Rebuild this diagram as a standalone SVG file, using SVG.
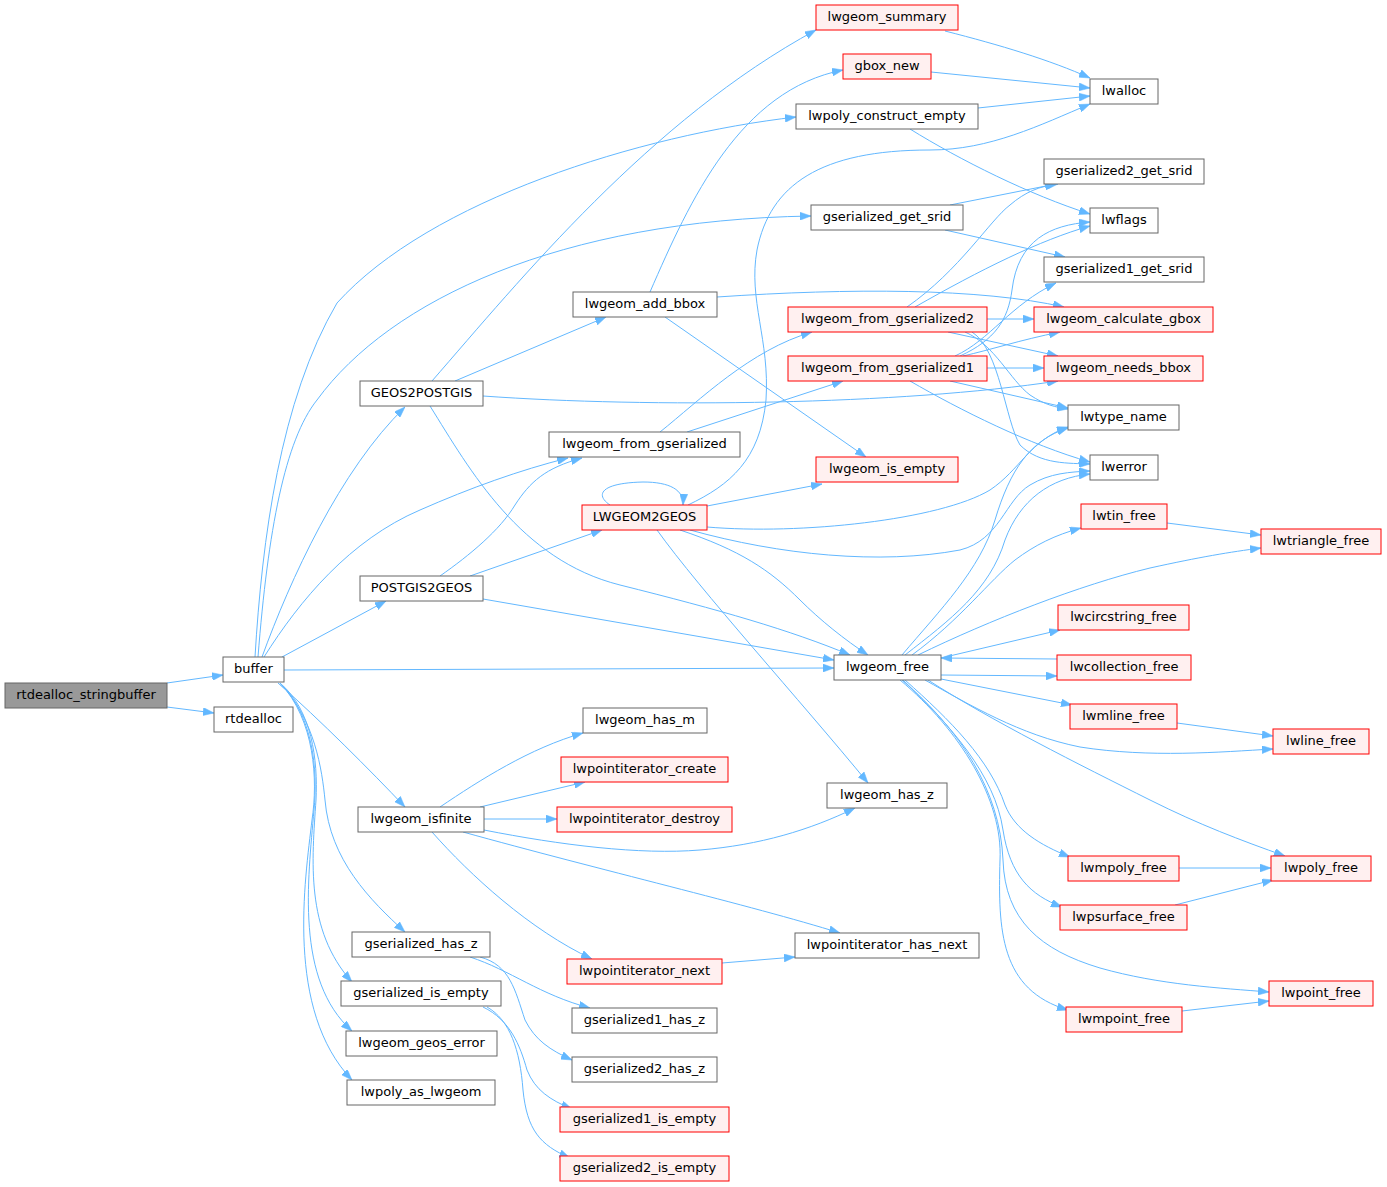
<svg xmlns="http://www.w3.org/2000/svg" width="1387" height="1187" viewBox="0 0 1387 1187">
<style>
.n rect{fill:#ffffff;stroke:#666666;stroke-width:1}
.r rect{fill:#fff0f0;stroke:#ff0000;stroke-width:1}
.root rect{fill:#999999;stroke:#666666;stroke-width:1}
text{font-family:"DejaVu Sans","Liberation Sans",sans-serif;font-size:13px;text-anchor:middle;fill:#000000}
.e path{fill:none;stroke:#63b8ff;stroke-width:1;marker-end:url(#a)}
</style>
<defs>
<marker id="a" viewBox="0 0 11 8" refX="11" refY="4" markerWidth="11" markerHeight="8" markerUnits="userSpaceOnUse" orient="auto" preserveAspectRatio="none">
<path d="M0,0 L11,4 L0,8 z" fill="#63b8ff" stroke="#63b8ff" stroke-width="0.5"/>
</marker>
</defs>
<rect width="1387" height="1187" fill="#ffffff"/>
<g class="e" id="edges">
<path d="M167,683 L223,675"/>
<path d="M167,707 L214,713"/>
<path d="M262,657 C290,580 340,470 405,407"/>
<path d="M264,657 C300,600 350,540 420,510 C470,488 520,470 568,458"/>
<path d="M255,657 C262,540 280,400 337,303 C430,200 640,135 796,117"/>
<path d="M258,657 C268,530 285,440 317,400 C390,300 560,220 811,216"/>
<path d="M282,657 L386,601"/>
<path d="M284,670 L834,668"/>
<path d="M278,683 C320,720 370,770 405,807"/>
<path d="M280,683 C315,720 322,770 325,800 C330,860 370,900 405,932"/>
<path d="M280,683 C312,710 318,760 316,800 C312,860 305,930 352,982"/>
<path d="M280,683 C313,715 318,770 314,810 C308,880 295,980 352,1031"/>
<path d="M280,683 C315,720 318,780 312,820 C305,880 285,1010 352,1080"/>
<path d="M432,381 C520,280 650,120 816,30"/>
<path d="M455,381 L606,317"/>
<path d="M483,396 C650,408 900,405 1058,381"/>
<path d="M430,406 C470,470 520,560 620,585 C720,610 790,630 850,655"/>
<path d="M650,292 C690,200 740,90 843,70"/>
<path d="M717,297 C850,288 980,288 1064,307"/>
<path d="M665,317 L866,457"/>
<path d="M660,432 C700,400 750,350 812,332"/>
<path d="M687,432 L843,381"/>
<path d="M907,307 C960,270 990,220 1010,205 C1025,192 1040,186 1058,184"/>
<path d="M915,307 C980,270 1040,240 1090,226"/>
<path d="M987,319 L1034,319"/>
<path d="M948,332 L1058,356"/>
<path d="M965,332 C995,345 1010,380 1030,395 C1045,405 1055,407 1068,409"/>
<path d="M972,332 C1000,350 1005,420 1020,445 C1040,465 1070,463 1090,464"/>
<path d="M955,356 C990,340 1010,305 1056,283"/>
<path d="M960,356 C995,340 1008,320 1012,290 C1018,240 1050,225 1090,222"/>
<path d="M963,356 C990,350 1020,340 1060,332"/>
<path d="M987,368 L1044,368"/>
<path d="M950,381 L1068,408"/>
<path d="M910,381 C960,410 1030,445 1090,462"/>
<path d="M950,205 L1056,184"/>
<path d="M945,230 L1065,257"/>
<path d="M978,108 L1090,96"/>
<path d="M910,129 C960,160 1030,195 1090,214"/>
<path d="M945,31 C1000,45 1050,60 1090,78"/>
<path d="M931,72 L1090,88"/>
<path d="M688,505 C730,485 760,460 766,400 C770,340 748,300 757,250 C770,185 820,150 930,150 C990,150 1040,125 1090,104"/>
<path d="M610,505 C595,495 600,483 643,482 C670,482 684,490 683,505"/>
<path d="M707,506 L822,484"/>
<path d="M707,527 C800,535 940,520 990,490 C1020,470 1030,440 1068,427"/>
<path d="M690,530 C780,555 880,565 960,550 C1000,540 1005,500 1030,485 C1050,473 1070,472 1090,471"/>
<path d="M680,530 C740,550 770,570 800,600 C820,620 845,640 868,655"/>
<path d="M657,530 C700,590 800,700 868,783"/>
<path d="M440,576 C470,555 500,530 515,505 C530,482 545,468 582,458"/>
<path d="M470,576 L602,530"/>
<path d="M483,599 L834,660"/>
<path d="M440,807 C480,780 530,748 583,733"/>
<path d="M480,807 L585,782"/>
<path d="M484,819 L557,819"/>
<path d="M484,830 C560,845 640,855 700,850 C760,845 810,830 855,808"/>
<path d="M463,832 C600,870 750,905 840,933"/>
<path d="M432,832 C470,875 530,930 592,959"/>
<path d="M722,963 L795,957"/>
<path d="M470,957 C510,970 540,995 590,1008"/>
<path d="M480,957 C510,965 515,990 525,1020 C535,1040 550,1050 572,1060"/>
<path d="M483,1007 C510,1020 520,1045 527,1070 C535,1090 550,1100 572,1109"/>
<path d="M487,1007 C510,1020 520,1050 523,1090 C527,1130 540,1145 570,1158"/>
<path d="M902,655 C940,610 980,570 995,520 C1010,470 1030,440 1068,428"/>
<path d="M905,655 C950,620 990,590 1005,540 C1020,500 1050,478 1090,474"/>
<path d="M912,655 C960,620 990,580 1015,560 C1035,545 1055,535 1081,528"/>
<path d="M918,655 C990,620 1080,585 1150,568 C1200,557 1230,552 1261,548"/>
<path d="M941,658 L1060,630"/>
<path d="M1057,659 L941,658"/>
<path d="M941,675 L1057,676"/>
<path d="M941,679 L1072,705"/>
<path d="M925,680 C970,705 1020,735 1080,747 C1150,758 1220,752 1273,749"/>
<path d="M928,680 C990,720 1080,765 1150,800 C1200,825 1240,840 1285,856"/>
<path d="M905,680 C950,720 990,760 1005,805 C1015,830 1040,845 1070,857"/>
<path d="M903,680 C950,725 995,775 1003,830 C1010,875 1030,895 1062,907"/>
<path d="M902,680 C960,730 1000,790 1003,860 C1005,920 1040,950 1100,968 C1160,985 1220,988 1269,992"/>
<path d="M900,680 C960,730 1003,800 1000,860 C998,930 1000,990 1068,1010"/>
<path d="M1167,523 L1261,535"/>
<path d="M1177,723 L1273,736"/>
<path d="M1179,868 L1271,868"/>
<path d="M1175,905 L1273,880"/>
<path d="M1182,1011 L1269,1001"/>
</g>
<g id="rtdealloc_stringbuffer" class="root"><rect x="5" y="683" width="162" height="25"/><text x="86" y="699">rtdealloc_stringbuffer</text></g>
<g id="buffer" class="n"><rect x="223" y="657" width="61" height="25"/><text x="253.5" y="673">buffer</text></g>
<g id="rtdealloc" class="n"><rect x="214" y="707" width="79" height="25"/><text x="253.5" y="723">rtdealloc</text></g>
<g id="GEOS2POSTGIS" class="n"><rect x="360" y="381" width="123" height="25"/><text x="421.5" y="397">GEOS2POSTGIS</text></g>
<g id="POSTGIS2GEOS" class="n"><rect x="360" y="576" width="123" height="25"/><text x="421.5" y="592">POSTGIS2GEOS</text></g>
<g id="lwgeom_summary" class="r"><rect x="816" y="5" width="142" height="25"/><text x="887" y="21">lwgeom_summary</text></g>
<g id="gbox_new" class="r"><rect x="843" y="54" width="88" height="25"/><text x="887" y="70">gbox_new</text></g>
<g id="lwpoly_construct_empty" class="n"><rect x="796" y="104" width="182" height="25"/><text x="887" y="120">lwpoly_construct_empty</text></g>
<g id="gserialized_get_srid" class="n"><rect x="811" y="205" width="152" height="25"/><text x="887" y="221">gserialized_get_srid</text></g>
<g id="lwgeom_add_bbox" class="n"><rect x="573" y="292" width="144" height="25"/><text x="645" y="308">lwgeom_add_bbox</text></g>
<g id="lwgeom_from_gserialized2" class="r"><rect x="788" y="307" width="199" height="25"/><text x="887.5" y="323">lwgeom_from_gserialized2</text></g>
<g id="lwgeom_from_gserialized1" class="r"><rect x="788" y="356" width="199" height="25"/><text x="887.5" y="372">lwgeom_from_gserialized1</text></g>
<g id="lwgeom_from_gserialized" class="n"><rect x="549" y="432" width="191" height="25"/><text x="644.5" y="448">lwgeom_from_gserialized</text></g>
<g id="lwgeom_is_empty" class="r"><rect x="816" y="457" width="142" height="25"/><text x="887" y="473">lwgeom_is_empty</text></g>
<g id="LWGEOM2GEOS" class="r"><rect x="582" y="505" width="125" height="25"/><text x="644.5" y="521">LWGEOM2GEOS</text></g>
<g id="lwgeom_free" class="n"><rect x="834" y="655" width="107" height="25"/><text x="887.5" y="671">lwgeom_free</text></g>
<g id="lwgeom_has_m" class="n"><rect x="583" y="708" width="124" height="25"/><text x="645" y="724">lwgeom_has_m</text></g>
<g id="lwpointiterator_create" class="r"><rect x="561" y="757" width="167" height="25"/><text x="644.5" y="773">lwpointiterator_create</text></g>
<g id="lwgeom_isfinite" class="n"><rect x="358" y="807" width="126" height="25"/><text x="421" y="823">lwgeom_isfinite</text></g>
<g id="lwpointiterator_destroy" class="r"><rect x="557" y="807" width="175" height="25"/><text x="644.5" y="823">lwpointiterator_destroy</text></g>
<g id="lwgeom_has_z" class="n"><rect x="827" y="783" width="120" height="25"/><text x="887" y="799">lwgeom_has_z</text></g>
<g id="gserialized_has_z" class="n"><rect x="352" y="932" width="138" height="25"/><text x="421" y="948">gserialized_has_z</text></g>
<g id="lwpointiterator_has_next" class="n"><rect x="795" y="933" width="184" height="25"/><text x="887" y="949">lwpointiterator_has_next</text></g>
<g id="lwpointiterator_next" class="r"><rect x="567" y="959" width="155" height="25"/><text x="644.5" y="975">lwpointiterator_next</text></g>
<g id="gserialized_is_empty" class="n"><rect x="341" y="981" width="160" height="25"/><text x="421" y="997">gserialized_is_empty</text></g>
<g id="gserialized1_has_z" class="n"><rect x="572" y="1008" width="145" height="25"/><text x="644.5" y="1024">gserialized1_has_z</text></g>
<g id="lwgeom_geos_error" class="n"><rect x="346" y="1031" width="151" height="25"/><text x="421.5" y="1047">lwgeom_geos_error</text></g>
<g id="gserialized2_has_z" class="n"><rect x="572" y="1057" width="145" height="25"/><text x="644.5" y="1073">gserialized2_has_z</text></g>
<g id="lwpoly_as_lwgeom" class="n"><rect x="347" y="1080" width="148" height="25"/><text x="421" y="1096">lwpoly_as_lwgeom</text></g>
<g id="gserialized1_is_empty" class="r"><rect x="560" y="1107" width="169" height="25"/><text x="644.5" y="1123">gserialized1_is_empty</text></g>
<g id="gserialized2_is_empty" class="r"><rect x="560" y="1156" width="169" height="25"/><text x="644.5" y="1172">gserialized2_is_empty</text></g>
<g id="lwalloc" class="n"><rect x="1090" y="79" width="68" height="25"/><text x="1124" y="95">lwalloc</text></g>
<g id="gserialized2_get_srid" class="n"><rect x="1044" y="159" width="160" height="25"/><text x="1124" y="175">gserialized2_get_srid</text></g>
<g id="lwflags" class="n"><rect x="1090" y="208" width="68" height="25"/><text x="1124" y="224">lwflags</text></g>
<g id="gserialized1_get_srid" class="n"><rect x="1044" y="257" width="160" height="25"/><text x="1124" y="273">gserialized1_get_srid</text></g>
<g id="lwgeom_calculate_gbox" class="r"><rect x="1034" y="307" width="179" height="25"/><text x="1123.5" y="323">lwgeom_calculate_gbox</text></g>
<g id="lwgeom_needs_bbox" class="r"><rect x="1044" y="356" width="159" height="25"/><text x="1123.5" y="372">lwgeom_needs_bbox</text></g>
<g id="lwtype_name" class="n"><rect x="1068" y="405" width="111" height="25"/><text x="1123.5" y="421">lwtype_name</text></g>
<g id="lwerror" class="n"><rect x="1090" y="455" width="68" height="25"/><text x="1124" y="471">lwerror</text></g>
<g id="lwtin_free" class="r"><rect x="1081" y="504" width="86" height="25"/><text x="1124" y="520">lwtin_free</text></g>
<g id="lwtriangle_free" class="r"><rect x="1261" y="529" width="120" height="25"/><text x="1321" y="545">lwtriangle_free</text></g>
<g id="lwcircstring_free" class="r"><rect x="1058" y="605" width="131" height="25"/><text x="1123.5" y="621">lwcircstring_free</text></g>
<g id="lwcollection_free" class="r"><rect x="1057" y="655" width="134" height="25"/><text x="1124" y="671">lwcollection_free</text></g>
<g id="lwmline_free" class="r"><rect x="1070" y="704" width="107" height="25"/><text x="1123.5" y="720">lwmline_free</text></g>
<g id="lwline_free" class="r"><rect x="1273" y="729" width="96" height="25"/><text x="1321" y="745">lwline_free</text></g>
<g id="lwmpoly_free" class="r"><rect x="1068" y="856" width="111" height="25"/><text x="1123.5" y="872">lwmpoly_free</text></g>
<g id="lwpoly_free" class="r"><rect x="1271" y="856" width="100" height="25"/><text x="1321" y="872">lwpoly_free</text></g>
<g id="lwpsurface_free" class="r"><rect x="1060" y="905" width="127" height="25"/><text x="1123.5" y="921">lwpsurface_free</text></g>
<g id="lwpoint_free" class="r"><rect x="1269" y="981" width="104" height="25"/><text x="1321" y="997">lwpoint_free</text></g>
<g id="lwmpoint_free" class="r"><rect x="1066" y="1007" width="116" height="25"/><text x="1124" y="1023">lwmpoint_free</text></g>
</svg>
